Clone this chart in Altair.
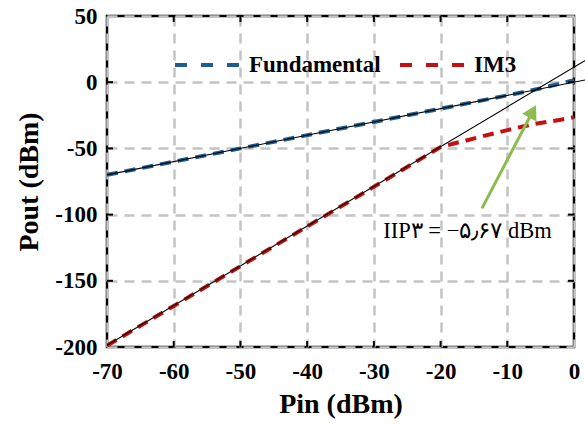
import altair as alt
import pandas as pd

# Measured two-tone sweep (Pin in dBm -> Pout in dBm)
pin_fund = [-70, -60, -50, -40, -30, -20, -10, -5, 0]
pout_fund = [-70, -60, -50, -40, -30, -20, -10, -4.7, 1.5]

pin_im3 = [-70, -60, -50, -40, -30, -25, -22, -20, -18, -16, -14, -12, -10, -8, -6, -4, -2, 0]
pout_im3 = [-199, -169, -139, -109, -79, -64, -55, -49, -46.3, -43.8, -41.2, -38.7,
            -36.2, -33.8, -31.6, -30.0, -28.3, -26.5]

# Small-signal extrapolations (slope 1 and slope 3), meeting at IIP3 = -5.67 dBm
ext_fund_pin = [-70, 2.5]
ext_fund_pout = [-70, 2.5]
ext_im3_pin = [-70, 2.5]
ext_im3_pout = [-198.66, 18.84]

x_ticks = [-70, -60, -50, -40, -30, -20, -10, 0]
y_ticks = [-200, -150, -100, -50, 0, 50]

series_names = ["Fundamental", "IM3"]
series_colors = ["#1c5f8e", "#c41010"]

# Annotation: IIP3 label and arrow pointing at the intercept
label_pin = [-28.6]
label_pout = [-112.5]
label_text = ["IIP\u06f3 = \u2212\u06f5\u066b\u06f6\u06f7 dBm"]
arrow_pin = [-13.8, -6.2]
arrow_pout = [-95.3, -22.1]
head_pin = [-6.2]
head_pout = [-22.1]

FONT = "Liberation Serif"
W, H = 467, 331
GREEN = "#8dbb4f"

series = pd.DataFrame({
    "pin": pin_fund + pin_im3,
    "pout": pout_fund + pout_im3,
    "series": [series_names[0]] * len(pin_fund) + [series_names[1]] * len(pin_im3),
})
ext = pd.DataFrame({
    "pin": ext_fund_pin + ext_im3_pin,
    "pout": ext_fund_pout + ext_im3_pout,
    "grp": ["f", "f", "i", "i"],
})

xs = alt.Scale(domain=[-70, 0], nice=False, zero=False)
ys = alt.Scale(domain=[-200, 50], nice=False, zero=False)

grid_kw = dict(grid=True, gridColor="#c4c4c4", gridWidth=2.5, gridDash=[10, 7])
lab_kw = dict(labelFont=FONT, labelFontSize=23, labelFontWeight="bold", labelColor="black",
              titleFont=FONT, titleFontSize=28, titleFontWeight="bold", titleColor="black",
              domain=False, ticks=False, labelExpr="datum.value + ''")

x_axis = alt.Axis(title="Pin (dBm)", values=x_ticks, labelPadding=13, titlePadding=7,
                  labelFlush=False, **lab_kw, **grid_kw)
y_axis = alt.Axis(title="Pout (dBm)", values=y_ticks, labelPadding=10, titlePadding=11,
                  labelFlush=False, **lab_kw, **grid_kw)

# Axes and grid come from this layer; the others reuse its shared scales
axes = alt.Chart(pd.DataFrame({"pin": [-70, 0], "pout": [-200, 50]})).mark_point(opacity=0).encode(
    x=alt.X("pin:Q", scale=xs, axis=x_axis),
    y=alt.Y("pout:Q", scale=ys, axis=y_axis),
)

X = alt.X("pin:Q", scale=xs, title="Pin (dBm)")
Y = alt.Y("pout:Q", scale=ys, title="Pout (dBm)")

lines = alt.Chart(series).mark_line(strokeWidth=4, strokeDash=[11, 7], clip=True).encode(
    x=X, y=Y,
    color=alt.Color(
        "series:N",
        scale=alt.Scale(domain=series_names, range=series_colors),
        legend=alt.Legend(
            title=None, orient="none", legendX=66, legendY=15, direction="horizontal",
            symbolType="stroke", symbolSize=4096, symbolStrokeWidth=4, symbolDash=[12, 14],
            labelFont=FONT, labelFontSize=23, labelFontWeight="bold", labelColor="black",
            labelOffset=8, columnPadding=11,
        ),
    ),
)

extrap = alt.Chart(ext).mark_line(color="black", strokeWidth=1.1, clip=False).encode(
    x=X, y=Y, detail="grp:N",
)

# Inward tick marks on all four sides of the frame
xt = pd.DataFrame({"pin": x_ticks[1:-1]})
yt = pd.DataFrame({"pout": y_ticks[1:-1]})
tick_style = dict(color="black", strokeWidth=2)
ticks_bottom = alt.Chart(xt).mark_rule(**tick_style).encode(
    x=X, y=alt.value(H), y2=alt.value(H - 6))
ticks_top = alt.Chart(xt).mark_rule(**tick_style).encode(
    x=X, y=alt.value(0), y2=alt.value(6))
ticks_left = alt.Chart(yt).mark_rule(**tick_style).encode(
    y=Y, x=alt.value(0), x2=alt.value(6))
ticks_right = alt.Chart(yt).mark_rule(**tick_style).encode(
    y=Y, x=alt.value(W), x2=alt.value(W - 6))

label = alt.Chart(pd.DataFrame({"pin": label_pin, "pout": label_pout, "t": label_text})).mark_text(
    align="left", baseline="middle", font=FONT, fontSize=22.5, color="black"
).encode(x=X, y=Y, text="t:N")

arrow = alt.Chart(pd.DataFrame({"pin": arrow_pin, "pout": arrow_pout})).mark_line(
    color=GREEN, strokeWidth=3
).encode(x=X, y=Y)

head = alt.Chart(pd.DataFrame({"pin": head_pin, "pout": head_pout})).mark_point(
    shape="triangle-up", filled=True, size=260, angle=28, color=GREEN, opacity=1
).encode(x=X, y=Y)

chart = alt.layer(
    axes, lines, extrap, ticks_bottom, ticks_top, ticks_left, ticks_right, label, arrow, head
).properties(
    width=W, height=H,
    padding={"left": 107, "top": 16, "right": 11, "bottom": 77},
    autosize=alt.AutoSizeParams(type="none"),
    background="white",
).configure_view(stroke="black", strokeWidth=2.5)

chart.save("out.html", embed_options={"renderer": "svg", "actions": False})
